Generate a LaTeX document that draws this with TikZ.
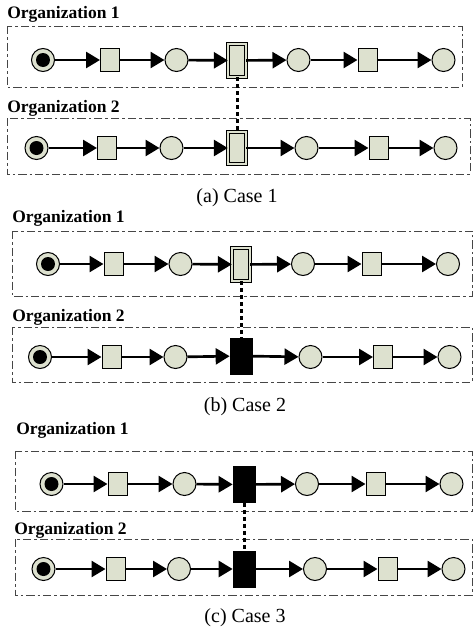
\documentclass[tikz,border=0pt]{standalone}
\usepackage{fontspec}
\setmainfont{Liberation Serif}
\usepackage{xcolor}
\usepackage{tikz}
\usetikzlibrary{arrows.meta,positioning,shapes}

\definecolor{pnfill}{RGB}{221,225,207}
\definecolor{boxline}{RGB}{70,70,70}

\begin{document}
\begin{tikzpicture}[x=0.6pt, y=-0.6pt,
    place/.style={circle, draw, fill=pnfill, line width=0.6pt, minimum size=13.8pt, inner sep=0pt},
    start/.style={place, path picture={\fill[black] (path picture bounding box.center) circle (4.2pt);}},
    trans/.style={rectangle, draw, fill=pnfill, line width=0.6pt, minimum width=11.4pt, minimum height=13.8pt, inner sep=0pt},
    dtrans/.style={rectangle, draw, fill=pnfill, line width=0.5pt, double=pnfill, double distance=1.2pt, minimum width=10.5pt, minimum height=19.5pt, inner sep=0pt},
    btrans/.style={rectangle, draw, fill=black, minimum width=13.2pt, minimum height=21.6pt, inner sep=0pt},
    arc/.style={-{Triangle[length=8.4pt, width=9.6pt]}, line width=1.6pt},
    sync/.style={line width=1.8pt, dash pattern=on 2.4pt off 1.8pt},
    orgbox/.style={draw=boxline, line width=0.6pt, dash pattern=on 5pt off 1.8pt on 1.5pt off 1.8pt},
    orglabel/.style={anchor=west, inner sep=0pt, font=\fontsize{10.5}{12}\selectfont\bfseries},
    caption/.style={inner sep=0pt, font=\fontsize{12}{14}\selectfont}]
    \useasboundingbox (0,0) rectangle (475,631);

    % (a) Case 1
    \draw [orgbox] (7,26) rectangle (462,87);
    \draw [orgbox] (7,118) rectangle (470,174);
    \node (a1lab) [orglabel] at (7,14) {Organization 1};
    \node (a2lab) [orglabel] at (7,108) {Organization 2};

    \node (a1p1) [start] at (43,60) {};
    \node (a1t1) [trans] at (110,60) {};
    \node (a1p2) [place] at (176.5,60) {};
    \node (a1t2) [dtrans] at (237,60.5) {};
    \node (a1p3) [place] at (298.5,60) {};
    \node (a1t3) [trans] at (367.5,60) {};
    \node (a1p4) [place] at (443.5,60) {};

    \node (a2p1) [start] at (36.5,148) {};
    \node (a2t1) [trans] at (107,148) {};
    \node (a2p2) [place] at (171.5,148) {};
    \node (a2t2) [dtrans] at (237,148) {};
    \node (a2p3) [place] at (306.5,148) {};
    \node (a2t3) [trans] at (378.5,148) {};
    \node (a2p4) [place] at (445.5,148) {};

    \node (acap) [caption] at (237,198) {(a) Case 1};

    % (b) Case 2
    \draw [orgbox] (12,231) rectangle (472,296);
    \draw [orgbox] (12,327) rectangle (472,382);
    \node (b1lab) [orglabel] at (12,218) {Organization 1};
    \node (b2lab) [orglabel] at (12,317) {Organization 2};

    \node (b1p1) [start] at (48,264) {};
    \node (b1t1) [trans] at (113.5,264) {};
    \node (b1p2) [place] at (180.5,264) {};
    \node (b1t2) [dtrans] at (241,264.5) {};
    \node (b1p3) [place] at (303,264) {};
    \node (b1t3) [trans] at (371.5,264) {};
    \node (b1p4) [place] at (448,264) {};

    \node (b2p1) [start] at (40,357) {};
    \node (b2t1) [trans] at (111.5,357) {};
    \node (b2p2) [place] at (175.5,357) {};
    \node (b2t2) [btrans] at (241,356) {};
    \node (b2p3) [place] at (310.5,357) {};
    \node (b2t3) [trans] at (383,357) {};
    \node (b2p4) [place] at (449.5,357) {};

    \node (bcap) [caption] at (245,407) {(b) Case 2};

    % (c) Case 3
    \draw [orgbox] (15,451) rectangle (472,511);
    \draw [orgbox] (15,539) rectangle (472,595);
    \node (c1lab) [orglabel] at (16,430) {Organization 1};
    \node (c2lab) [orglabel] at (14,530) {Organization 2};

    \node (c1p1) [start] at (51.5,484) {};
    \node (c1t1) [trans] at (117.5,484) {};
    \node (c1p2) [place] at (184.5,484) {};
    \node (c1t2) [btrans] at (244,484.5) {};
    \node (c1p3) [place] at (307,484) {};
    \node (c1t3) [trans] at (375.5,484) {};
    \node (c1p4) [place] at (451.5,484) {};

    \node (c2p1) [start] at (43.5,569) {};
    \node (c2t1) [trans] at (115.5,569) {};
    \node (c2p2) [place] at (179,569) {};
    \node (c2t2) [btrans] at (244,569) {};
    \node (c2p3) [place] at (315,569) {};
    \node (c2t3) [trans] at (387.5,569) {};
    \node (c2p4) [place] at (453.5,569) {};

    \node (ccap) [caption] at (245,618) {(c) Case 3};

    \foreach \r in {a1,a2,b1,b2,c1,c2} {
        \draw [arc] (\r p1) -- (\r t1);
        \draw [arc] (\r t1) -- (\r p2);
        \draw [arc] (\r p2) -- (\r t2);
        \draw [arc] (\r t2) -- (\r p3);
        \draw [arc] (\r p3) -- (\r t3);
        \draw [arc] (\r t3) -- (\r p4);
    }

    \draw [sync] (a1t2) -- (a2t2);
    \draw [sync] (b1t2) -- (b2t2);
    \draw [sync] (c1t2) -- (c2t2);
\end{tikzpicture}
\end{document}
